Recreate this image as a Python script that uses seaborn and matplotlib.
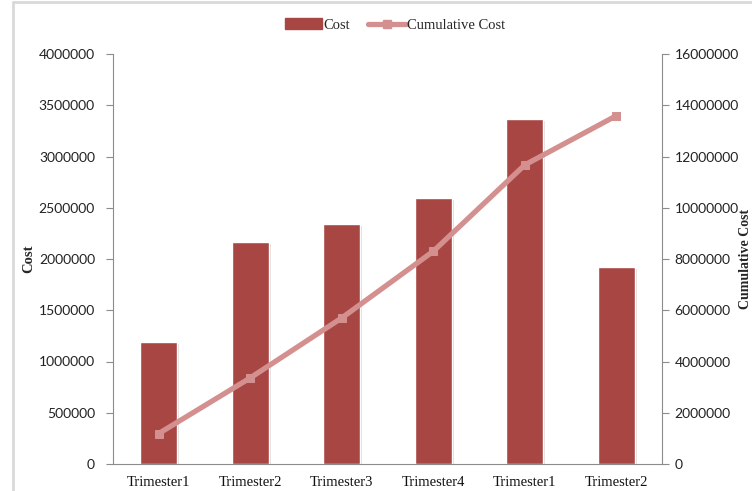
import numpy as np
import pandas as pd
import matplotlib.pyplot as plt
import matplotlib.patheffects as pe
from matplotlib.lines import Line2D
import seaborn as sns

# Data
periods = ["Trimester1", "Trimester2", "Trimester3", "Trimester4", "Trimester1", "Trimester2"]
cost = [1190000, 2170000, 2340000, 2600000, 3370000, 1920000]
cumulative_cost = [1190000, 3360000, 5700000, 8300000, 11670000, 13590000]

left_ticks = [0, 500000, 1000000, 1500000, 2000000, 2500000, 3000000, 3500000, 4000000]
right_ticks = [0, 2000000, 4000000, 6000000, 8000000, 10000000, 12000000, 14000000, 16000000]

bar_color = "#A84644"
line_color = "#D4908F"
grey = "#8C8C8C"

df = pd.DataFrame({"pos": [str(i) for i in range(len(periods))],
                   "idx": list(range(len(periods))),
                   "cost": cost,
                   "cum": cumulative_cost})

sns.set_style("white")
plt.rcParams["font.family"] = ["Liberation Serif", "DejaVu Serif"]

fig = plt.figure(figsize=(7.52, 4.91), dpi=100)
ax = fig.add_axes([113 / 752, 1 - 464 / 491, 549 / 752, 410 / 491])

sns.barplot(data=df, x="pos", y="cost", color=bar_color, saturation=1,
            width=0.4, ax=ax)
for p in ax.patches:
    p.set_path_effects([pe.SimplePatchShadow(offset=(1.5, -1.5), shadow_rgbFace="#999999", alpha=0.35),
                        pe.Normal()])

ax2 = ax.twinx()
sns.lineplot(data=df, x="idx", y="cum", color=line_color, linewidth=3.8,
             marker="s", markersize=6, markeredgecolor=line_color,
             ax=ax2, legend=False)

ax.set_xlim(-0.5, len(periods) - 0.5)
ax.set_ylim(0, 4000000)
ax2.set_ylim(0, 16000000)
ax.set_yticks(left_ticks)
ax2.set_yticks(right_ticks)
ax.set_yticklabels([str(t) for t in left_ticks], fontfamily="Lato", fontsize=10, color="#222222")
ax2.set_yticklabels([str(t) for t in right_ticks], fontfamily="Lato", fontsize=10, color="#222222")

# category labels with separators below axis
ax.set_xticks(range(len(periods)))
ax.set_xticklabels(periods, fontsize=10.5, color="#111111")
ax.tick_params(axis="x", which="major", length=0, pad=9)
ax.set_xticks(np.arange(-0.5, len(periods)), minor=True)
ax.tick_params(axis="x", which="minor", length=20, width=0.8, color=grey, direction="out")

ax.tick_params(axis="y", length=5, width=0.8, color=grey, direction="out", pad=8)
ax2.tick_params(axis="y", length=5, width=0.8, color=grey, direction="out", pad=4)

for a in (ax, ax2):
    a.spines["top"].set_visible(False)
    for s in ("left", "right", "bottom"):
        a.spines[s].set_color(grey)
        a.spines[s].set_linewidth(0.8)
ax.spines["right"].set_visible(False)
ax2.spines["left"].set_visible(False)
ax2.spines["bottom"].set_visible(False)

ax.set_xlabel("")
ax.set_ylabel("Cost", fontsize=10.5, fontweight="bold")
ax.yaxis.set_label_coords(-0.142, 0.5)
ax2.set_ylabel("Cumulative Cost", fontsize=10, fontweight="bold")
ax2.yaxis.set_label_coords((739 - 113) / 549, 0.5)

# legend on top
handles = [plt.Rectangle((0, 0), 1, 1, color=bar_color),
           Line2D([], [], color=line_color, linewidth=3.8, marker="s", markersize=6)]
fig.legend(handles, ["Cost", "Cumulative Cost"], loc="center", bbox_to_anchor=(395 / 752, 1 - 25 / 491),
           ncol=2, frameon=False, fontsize=10.5, handlelength=2.6, handletextpad=0.1, columnspacing=1.2)

# chart frame edges visible in the crop
fig.add_artist(Line2D([13 / 752, 13 / 752], [0, 1 - 2 / 491], color="#D9D9D9", linewidth=2))
fig.add_artist(Line2D([13 / 752, 1], [1 - 2 / 491, 1 - 2 / 491], color="#D9D9D9", linewidth=2))

fig.savefig("out.png", dpi=100)
